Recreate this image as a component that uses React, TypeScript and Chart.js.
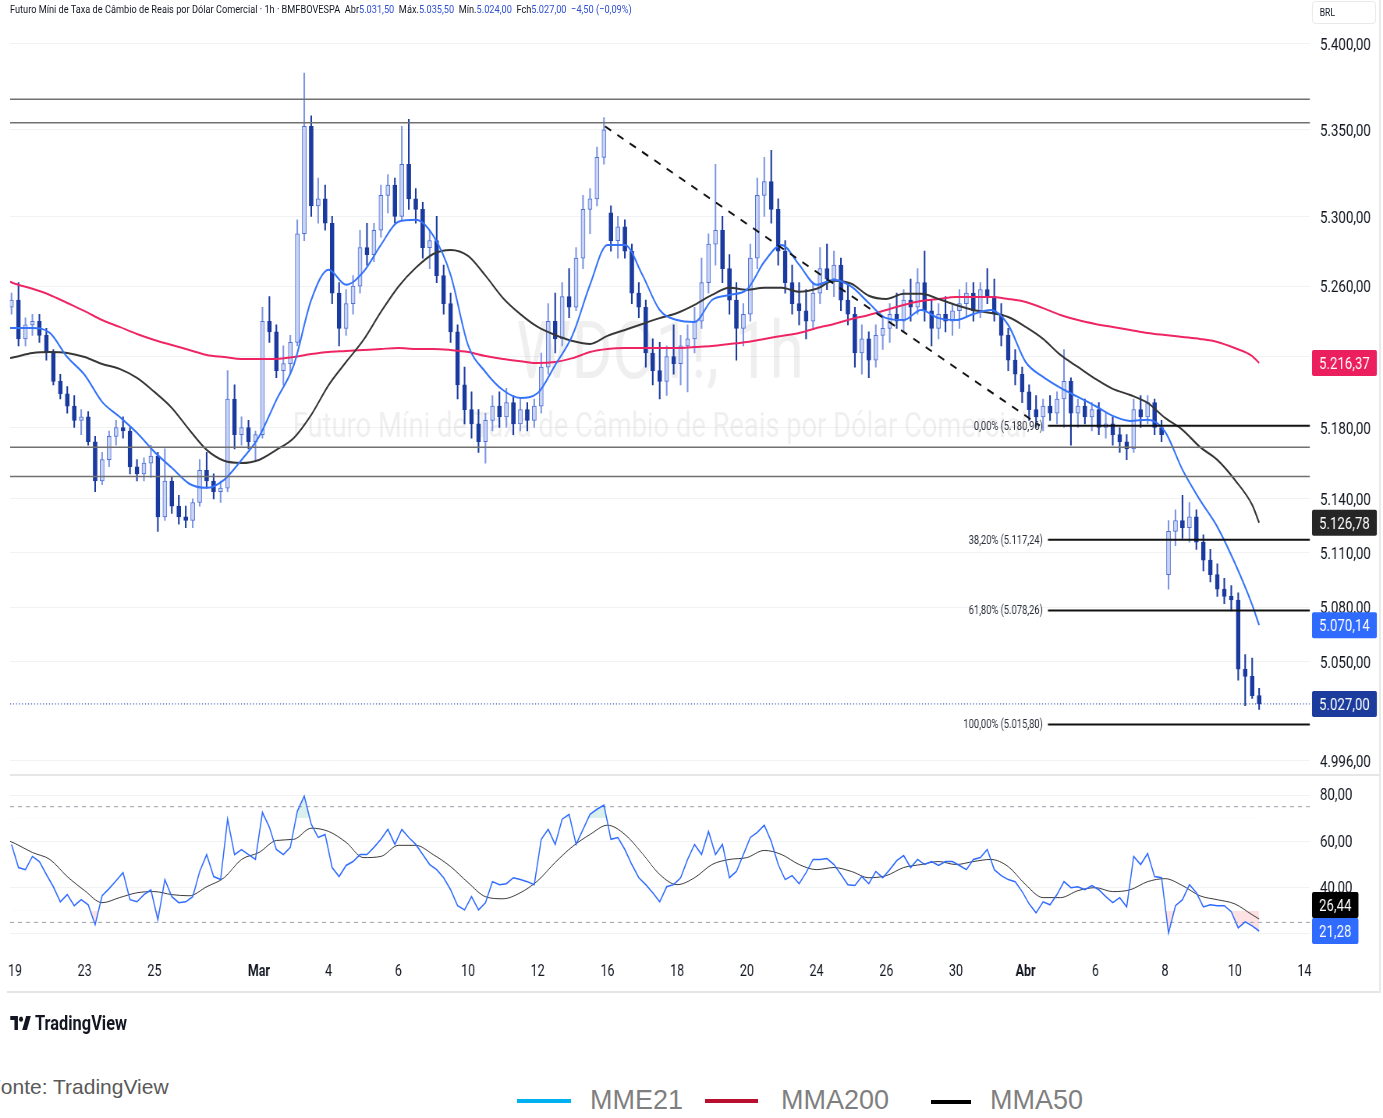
import React, { useEffect, useRef } from "react";
import { Chart, registerables } from "chart.js";

Chart.register(...registerables);

// The TradingView capture is horizontally squeezed; we render wider and squeeze it the same way.
const PAGE_W = 1383;
const SQUEEZE = 0.78;
const CANVAS_W = Math.round(PAGE_W / SQUEEZE);
const SQ = PAGE_W / CANVAS_W;
const CANVAS_H = 993;
const FONT = 'Roboto, "Open Sans", sans-serif';
const SLOTS_PER_DAY = 5;

// ---------- x axis (trading days, 0 = 19 Feb) ----------
const tickDays = [0, 2, 4, 7, 9, 11, 13, 15, 17, 19, 21, 23, 25, 27, 29, 31, 33, 35, 37];
const tickLabels = ["19", "23", "25", "Mar", "4", "6", "10", "12", "16", "18", "20", "24", "26", "30", "Abr", "6", "8", "10", "14"];
const monthLabels = ["Mar", "Abr"];
const viewStartDay = -0.143;
const viewEndDay = 37.16;

// ---------- candles (1st = last bar of 18 Feb, then 5 bars per trading day) ----------
const candleOpen = [5248,
  5252, 5230, 5238, 5240, 5232, 5222, 5206, 5199, 5192, 5184, 5186, 5172, 5150, 5162, 5175,
  5180, 5178, 5158, 5154, 5160, 5164, 5130, 5150, 5136, 5130, 5128, 5138, 5156, 5150, 5144,
  5146, 5196, 5176, 5180, 5172, 5176, 5240, 5234, 5212, 5216, 5228, 5290, 5352, 5306, 5310,
  5296, 5256, 5236, 5250, 5260, 5282, 5278, 5292, 5312, 5318, 5300, 5330, 5310, 5304, 5282,
  5286, 5266, 5250, 5234, 5204, 5190, 5182, 5172, 5184, 5192, 5186, 5194, 5182, 5190, 5184,
  5192, 5214, 5240, 5230, 5254, 5248, 5276, 5304, 5310, 5334, 5302, 5286, 5294, 5280, 5256,
  5248, 5222, 5212, 5206, 5220, 5216, 5226, 5230, 5240, 5262, 5284, 5292, 5270, 5252, 5236,
  5244, 5276, 5312, 5320, 5304, 5280, 5262, 5250, 5246, 5240, 5256, 5270, 5264, 5272, 5252,
  5244, 5222, 5230, 5218, 5232, 5236, 5244, 5240, 5252, 5248, 5262, 5246, 5236, 5244, 5240,
  5246, 5250, 5256, 5246, 5258, 5254, 5244, 5232, 5218, 5210, 5200, 5190, 5186, 5192, 5188,
  5196, 5206, 5188, 5192, 5186, 5190, 5180, 5182, 5176, 5172, 5168, 5190, 5186, 5194, 5180,
  5098, 5122, 5128, 5124, 5130, 5116, 5106, 5098, 5090, 5086, 5084, 5046, 5042, 5031.5];
const candleHigh = [5256,
  5262, 5242, 5244, 5244, 5236, 5224, 5210, 5203, 5198, 5190, 5189, 5175, 5166, 5178, 5184,
  5186, 5180, 5162, 5163, 5170, 5166, 5168, 5152, 5142, 5136, 5140, 5162, 5166, 5154, 5150,
  5212, 5204, 5186, 5184, 5178, 5248, 5254, 5238, 5226, 5232, 5298, 5383, 5358, 5322, 5318,
  5300, 5262, 5258, 5266, 5292, 5296, 5296, 5318, 5324, 5322, 5352, 5356, 5316, 5308, 5292,
  5300, 5272, 5256, 5238, 5214, 5200, 5190, 5188, 5198, 5200, 5202, 5198, 5196, 5194, 5196,
  5222, 5250, 5256, 5262, 5270, 5282, 5312, 5316, 5340, 5357, 5306, 5300, 5298, 5284, 5262,
  5252, 5230, 5228, 5226, 5238, 5232, 5238, 5248, 5276, 5290, 5330, 5300, 5278, 5262, 5250,
  5284, 5322, 5334, 5338, 5310, 5286, 5272, 5262, 5258, 5262, 5282, 5284, 5280, 5276, 5262,
  5248, 5238, 5234, 5238, 5242, 5250, 5256, 5258, 5264, 5270, 5280, 5252, 5250, 5254, 5250,
  5258, 5262, 5262, 5262, 5270, 5264, 5250, 5236, 5224, 5214, 5204, 5198, 5196, 5198, 5200,
  5224, 5208, 5196, 5196, 5194, 5194, 5188, 5186, 5180, 5176, 5196, 5198, 5198, 5196, 5184,
  5128, 5134, 5142, 5138, 5134, 5120, 5112, 5104, 5096, 5092, 5088, 5054, 5052, 5035.5];
const candleLow = [5244,
  5226, 5226, 5232, 5228, 5218, 5204, 5196, 5188, 5180, 5176, 5170, 5144, 5148, 5158, 5170,
  5174, 5154, 5150, 5150, 5152, 5122, 5128, 5132, 5126, 5124, 5124, 5136, 5146, 5140, 5138,
  5144, 5168, 5170, 5168, 5162, 5174, 5228, 5208, 5204, 5210, 5226, 5286, 5300, 5296, 5292,
  5250, 5226, 5232, 5244, 5256, 5272, 5274, 5288, 5302, 5296, 5298, 5304, 5296, 5276, 5270,
  5262, 5244, 5228, 5196, 5182, 5174, 5166, 5160, 5178, 5180, 5180, 5176, 5178, 5178, 5180,
  5188, 5210, 5222, 5226, 5242, 5246, 5270, 5290, 5306, 5330, 5280, 5276, 5276, 5250, 5242,
  5214, 5204, 5196, 5198, 5210, 5204, 5200, 5222, 5236, 5256, 5272, 5262, 5244, 5218, 5226,
  5240, 5270, 5300, 5296, 5272, 5256, 5244, 5238, 5230, 5236, 5250, 5258, 5254, 5246, 5238,
  5214, 5210, 5208, 5214, 5224, 5228, 5236, 5234, 5240, 5244, 5240, 5226, 5230, 5234, 5232,
  5236, 5242, 5240, 5242, 5250, 5240, 5226, 5212, 5204, 5194, 5184, 5180, 5178, 5184, 5182,
  5180, 5170, 5180, 5182, 5178, 5176, 5174, 5170, 5166, 5162, 5166, 5180, 5182, 5176, 5172,
  5090, 5114, 5118, 5116, 5112, 5100, 5094, 5086, 5082, 5078, 5040, 5026, 5030, 5024];
const candleClose = [5252,
  5230, 5238, 5240, 5232, 5222, 5206, 5199, 5192, 5184, 5186, 5172, 5150, 5162, 5175, 5180,
  5178, 5158, 5154, 5160, 5164, 5130, 5150, 5136, 5130, 5128, 5138, 5156, 5150, 5144, 5146,
  5196, 5176, 5180, 5172, 5176, 5240, 5234, 5212, 5216, 5228, 5290, 5352, 5306, 5310, 5296,
  5256, 5236, 5250, 5260, 5282, 5278, 5292, 5312, 5318, 5300, 5330, 5310, 5304, 5282, 5286,
  5266, 5250, 5234, 5204, 5190, 5182, 5172, 5184, 5192, 5186, 5194, 5182, 5190, 5184, 5192,
  5214, 5240, 5230, 5254, 5248, 5276, 5304, 5310, 5334, 5350, 5286, 5294, 5280, 5256, 5248,
  5222, 5212, 5206, 5220, 5216, 5226, 5230, 5240, 5262, 5284, 5292, 5270, 5252, 5236, 5244,
  5276, 5312, 5320, 5304, 5280, 5262, 5250, 5246, 5240, 5256, 5270, 5264, 5272, 5252, 5244,
  5222, 5230, 5218, 5232, 5236, 5244, 5240, 5252, 5248, 5262, 5246, 5236, 5244, 5240, 5246,
  5250, 5256, 5246, 5258, 5254, 5244, 5232, 5218, 5210, 5200, 5190, 5186, 5192, 5188, 5196,
  5206, 5188, 5192, 5186, 5190, 5180, 5182, 5176, 5172, 5168, 5190, 5186, 5194, 5180, 5176,
  5122, 5128, 5124, 5130, 5116, 5106, 5098, 5090, 5086, 5084, 5046, 5042, 5031.5, 5027];

// ---------- RSI(14) per candle ----------
const rsiValues = [58.7,
  48.7, 47.8, 53.5, 51.3, 45.7, 40.4, 33.9, 37.0, 32.2, 34.8, 32.6, 24.0, 36.5, 39.6, 43.0,
  46.5, 34.8, 33.9, 37.0, 39.1, 26.1, 43.5, 36.1, 33.5, 33.9, 36.1, 47.0, 54.3, 44.8, 43.5,
  69.6, 54.3, 56.5, 54.3, 52.2, 72.6, 66.1, 56.5, 54.3, 57.4, 73.0, 79.6, 67.4, 61.7, 63.0,
  48.7, 44.8, 49.6, 51.3, 54.3, 54.3, 57.4, 60.9, 65.2, 58.7, 65.2, 61.7, 58.7, 54.3, 50.0,
  47.8, 44.3, 39.1, 32.2, 30.4, 36.1, 30.4, 33.5, 42.6, 41.3, 41.7, 44.3, 43.5, 42.6, 41.3,
  60.9, 65.2, 58.7, 69.6, 71.7, 58.7, 65.2, 71.7, 73.9, 75.7, 60.9, 61.7, 56.5, 50.0, 44.3,
  41.3, 37.8, 33.9, 40.4, 41.3, 44.3, 52.2, 58.7, 54.3, 64.3, 54.3, 58.7, 44.3, 47.0, 54.3,
  61.7, 63.9, 67.0, 60.0, 50.0, 43.5, 45.2, 41.7, 46.5, 52.2, 52.2, 52.6, 50.0, 45.7, 41.3,
  40.9, 44.8, 41.7, 47.0, 44.3, 47.8, 51.7, 53.9, 48.7, 52.2, 50.0, 51.3, 49.6, 51.3, 51.3,
  49.6, 47.8, 52.2, 53.0, 56.5, 47.8, 45.2, 43.5, 42.6, 38.3, 33.0, 29.1, 33.9, 32.6, 37.0,
  42.6, 40.0, 40.4, 39.1, 40.9, 39.1, 36.1, 33.5, 35.7, 31.7, 53.5, 50.0, 54.8, 44.8, 44.3,
  20.4, 32.2, 34.8, 41.3, 37.8, 31.7, 32.6, 32.2, 32.2, 29.6, 22.6, 25.2, 23.5, 21.28];

// ---------- moving averages, read every half trading day ----------
const maDays = [-0.14, 0, 0.5, 1, 1.5, 2, 2.5, 3, 3.5, 4, 4.5, 5, 5.5, 6, 6.5, 7, 7.5, 8, 8.5, 9, 9.5,
  10, 10.5, 11, 11.5, 12, 12.5, 13, 13.5, 14, 14.5, 15, 15.5, 16, 16.5, 17, 17.5, 18, 18.5, 19, 19.5,
  20, 20.5, 21, 21.5, 22, 22.5, 23, 23.5, 24, 24.5, 25, 25.5, 26, 26.5, 27, 27.5, 28, 28.5, 29, 29.5,
  30, 30.5, 31, 31.5, 32, 32.5, 33, 33.5, 34, 34.5, 35, 35.5, 35.7];
const ema21 = [5236.2, 5236.2, 5236.2, 5233.4, 5219.7, 5209.6, 5194.4, 5186.0, 5177.0, 5166.3, 5157.4,
  5148.5, 5146.2, 5150.7, 5161.8, 5174.7, 5195.5, 5215.2, 5252.1, 5269.4, 5260.8, 5268.2, 5283.6,
  5296.9, 5298.0, 5288.9, 5266.5, 5226.5, 5211.3, 5201.1, 5196.6, 5199.4, 5215.2, 5232.2, 5260.8,
  5283.6, 5283.6, 5266.5, 5246.4, 5240.7, 5239.6, 5252.1, 5255.0, 5258.0, 5273.9, 5283.6, 5272.2,
  5260.8, 5263.7, 5259.7, 5250.4, 5241.8, 5240.7, 5246.4, 5241.8, 5240.7, 5244.1, 5246.4, 5237.9,
  5216.9, 5208.5, 5202.3, 5197.2, 5192.1, 5186.5, 5183.7, 5184.3, 5177.6, 5156.3, 5139.5, 5124.5,
  5104.5, 5081.3, 5070.14];
const sma50 = [5219.1, 5219.7, 5222.0, 5222.6, 5222.0, 5219.7, 5215.8, 5213.0, 5207.9, 5200.0, 5191.0,
  5178.7, 5167.4, 5161.3, 5160.1, 5161.8, 5167.4, 5174.1, 5187.1, 5203.9, 5216.9, 5229.4, 5245.3,
  5259.7, 5270.5, 5278.4, 5280.7, 5277.3, 5266.0, 5253.3, 5244.1, 5236.8, 5232.2, 5228.8, 5227.1,
  5231.7, 5235.1, 5238.5, 5241.8, 5244.7, 5249.3, 5255.0, 5259.1, 5258.0, 5259.1, 5259.1, 5256.8,
  5258.5, 5263.1, 5261.4, 5254.5, 5252.7, 5255.6, 5255.6, 5252.7, 5249.3, 5246.4, 5244.7, 5242.4,
  5236.8, 5230.0, 5220.9, 5214.1, 5207.4, 5201.7, 5198.3, 5193.8, 5185.4, 5178.7, 5169.1, 5161.8,
  5150.7, 5136.7, 5126.78];
const sma200 = [5262.5, 5261.4, 5258.5, 5255.0, 5250.4, 5245.8, 5240.7, 5236.8, 5232.8, 5229.4, 5226.5,
  5223.7, 5220.9, 5219.7, 5218.6, 5218.6, 5218.6, 5219.7, 5221.4, 5222.6, 5223.1, 5223.7, 5224.3,
  5224.8, 5224.3, 5224.3, 5223.7, 5222.6, 5220.3, 5218.6, 5217.4, 5216.3, 5216.9, 5219.1, 5222.6,
  5224.3, 5224.8, 5224.8, 5224.8, 5224.8, 5225.4, 5226.0, 5227.1, 5228.3, 5230.0, 5231.7, 5233.4,
  5236.2, 5238.5, 5241.3, 5243.6, 5246.4, 5249.3, 5251.5, 5252.7, 5253.8, 5253.8, 5253.8, 5252.7,
  5251.0, 5247.5, 5243.6, 5240.7, 5238.5, 5236.8, 5235.1, 5233.4, 5232.2, 5231.1, 5230.0, 5228.3,
  5224.8, 5220.3, 5216.37];
const rsiMa = [60.0, 59.1, 55.2, 52.2, 44.8, 38.7, 33.5, 35.7, 37.8, 38.3, 37.0, 36.5, 40.4, 44.3, 52.2,
  55.2, 60.4, 60.9, 65.7, 64.3, 59.6, 53.0, 53.5, 58.3, 58.3, 54.3, 49.1, 42.2, 36.1, 35.2, 37.8, 43.0,
  50.9, 57.8, 63.0, 67.0, 63.0, 54.8, 45.7, 41.3, 44.3, 50.0, 52.2, 53.0, 56.1, 54.3, 50.0, 47.8, 48.7,
  47.0, 44.3, 45.2, 48.7, 50.0, 51.3, 50.0, 51.3, 52.2, 49.1, 41.3, 35.7, 35.7, 38.7, 40.0, 38.3, 39.1,
  42.6, 43.9, 40.9, 36.5, 34.8, 33.0, 28.3, 26.44];

// ---------- drawings ----------
const hLevels = [5367.7, 5354.1, 5168.9, 5152.5];
const fibPercents = ["0,00%", "38,20%", "61,80%", "100,00%"];
const fibPrices = [5180.96, 5117.24, 5078.26, 5015.8];
const fibStartDay = 29.64;
const trendDays = [16.93, 29.41];
const trendPrices = [5352, 5181];
const priceTicks = [5400, 5350, 5300, 5260, 5220, 5180, 5140, 5110, 5080, 5050, 4996];
const rsiTicks = [80, 60, 40, 20];
const rsiBands = [75, 25];
const priceRange = [4988.4, 5425.8];
const rsiRange = [10.9, 88.7];

const fmt = (v: number, dec = 2) => {
  const s = Math.abs(v).toFixed(dec);
  const [i, f] = s.split(".");
  const ii = i.replace(/\B(?=(\d{3})+(?!\d))/g, ".");
  return (v < 0 ? "−" : "") + ii + (f ? "," + f : "");
};

const UP_FILL = "#c9d4f5";
const UP_LINE = "#4f70d6";
const DOWN = "#1a3a9f";

export default function App() {
  const ref = useRef<HTMLCanvasElement>(null);

  useEffect(() => {
    const canvas = ref.current!;
    const px = (v: number) => v / SQ; // page px -> canvas px (horizontal)
    const slot = (d: number) => d * SLOTS_PER_DAY;
    const cSlot = (i: number) => i - 0.5;
    const xMin = slot(viewStartDay);
    const xMax = slot(viewEndDay);
    const up = candleClose.map((c, i) => c >= candleOpen[i]);
    const last = candleClose.length - 1;

    const flat = (v: number, a: number, b: number) => [{ x: a, y: v }, { x: b, y: v }];
    const maData = (arr: number[]) => arr.map((v, i) => ({ x: slot(maDays[i]), y: v }));
    const zeroPad = (s: any) => { s.paddingTop = 0; s.paddingBottom = 0; s.paddingLeft = 0; s.paddingRight = 0; };

    const datasets: any[] = [
      {
        type: "bar", label: "wicks", yAxisID: "yPrice", grouped: false, order: 20,
        data: candleClose.map((_, i) => ({ x: cSlot(i), y: [candleLow[i], candleHigh[i]] })),
        backgroundColor: up.map((u) => (u ? "#7d95e3" : DOWN)),
        barThickness: px(1.1), borderWidth: 0, minBarLength: 1,
      },
      {
        type: "bar", label: "bodies", yAxisID: "yPrice", grouped: false, order: 19,
        data: candleClose.map((c, i) => ({ x: cSlot(i), y: [candleOpen[i], c] })),
        backgroundColor: up.map((u) => (u ? UP_FILL : DOWN)),
        borderColor: up.map((u) => (u ? UP_LINE : DOWN)),
        borderWidth: 1, borderSkipped: false, barThickness: px(4), minBarLength: 1,
      },
      { type: "line", label: "MMA200", yAxisID: "yPrice", order: 8, data: maData(sma200),
        borderColor: "#ef2462", borderWidth: 2, pointRadius: 0, cubicInterpolationMode: "monotone" },
      { type: "line", label: "MMA50", yAxisID: "yPrice", order: 7, data: maData(sma50),
        borderColor: "#363636", borderWidth: 2, pointRadius: 0, cubicInterpolationMode: "monotone" },
      { type: "line", label: "MME21", yAxisID: "yPrice", order: 6, data: maData(ema21),
        borderColor: "#3574f9", borderWidth: 2, pointRadius: 0, cubicInterpolationMode: "monotone" },
      ...hLevels.map((v) => ({ type: "line", yAxisID: "yPrice", order: 5, data: flat(v, xMin, xMax),
        borderColor: "#707070", borderWidth: 1.5, pointRadius: 0 })),
      ...fibPrices.map((v) => ({ type: "line", yAxisID: "yPrice", order: 5, data: flat(v, slot(fibStartDay), xMax),
        borderColor: "#111111", borderWidth: 2, pointRadius: 0 })),
      { type: "line", yAxisID: "yPrice", order: 4,
        data: trendDays.map((d, i) => ({ x: slot(d), y: trendPrices[i] })),
        borderColor: "#111111", borderWidth: 2, borderDash: [px(7), px(7)], pointRadius: 0 },
      { type: "line", yAxisID: "yPrice", order: 4, data: flat(candleClose[last], xMin, xMax),
        borderColor: "#1b3d9c", borderWidth: 1, borderDash: [px(1), px(2)], pointRadius: 0 },
      // RSI pane
      ...rsiBands.map((v) => ({ type: "line", yAxisID: "yRsi", order: 9, data: flat(v, xMin, xMax),
        borderColor: "#9a9da6", borderWidth: 1, borderDash: [px(4), px(4)], pointRadius: 0 })),
      { type: "line", yAxisID: "yRsi", order: 10,
        data: rsiValues.map((v, i) => ({ x: cSlot(i), y: v })),
        borderWidth: 0, borderColor: "rgba(0,0,0,0)", pointRadius: 0,
        fill: { target: { value: 70 }, above: "rgba(8,153,129,0.15)", below: "rgba(0,0,0,0)" } },
      { type: "line", yAxisID: "yRsi", order: 10,
        data: rsiValues.map((v, i) => ({ x: cSlot(i), y: v })),
        borderWidth: 0, borderColor: "rgba(0,0,0,0)", pointRadius: 0,
        fill: { target: { value: 30 }, above: "rgba(0,0,0,0)", below: "rgba(242,54,69,0.15)" } },
      { type: "line", label: "RSI MA", yAxisID: "yRsi", order: 3, data: maData(rsiMa),
        borderColor: "#3a3a3a", borderWidth: 1, pointRadius: 0, cubicInterpolationMode: "monotone" },
      { type: "line", label: "RSI", yAxisID: "yRsi", order: 2,
        data: rsiValues.map((v, i) => ({ x: cSlot(i), y: v })),
        borderColor: "#2f6bff", borderWidth: 1.5, pointRadius: 0 },
    ];

    const decor = {
      id: "tvDecor",
      beforeDatasetsDraw(chart: any) {
        const { ctx, chartArea } = chart;
        const yp = chart.scales.yPrice;
        const cx = (chartArea.left + chartArea.right) / 2;
        const cy = (yp.top + yp.bottom) / 2;
        ctx.save();
        ctx.fillStyle = "rgba(120,123,134,0.12)";
        ctx.textAlign = "center";
        ctx.textBaseline = "middle";
        ctx.font = `80px ${FONT}`;
        ctx.fillText("WDO1!, 1h", cx, cy - 30);
        ctx.font = `35px ${FONT}`;
        ctx.fillText("Futuro Míni de Taxa de Câmbio de Reais por Dólar Comercial", cx, cy + 41);
        ctx.restore();
      },
      afterDraw(chart: any) {
        const { ctx, chartArea } = chart;
        const yp = chart.scales.yPrice;
        const yr = chart.scales.yRsi;
        const xs = chart.scales.x;
        ctx.save();
        // fib labels
        ctx.font = `12px ${FONT}`;
        ctx.fillStyle = "#2a2e39";
        ctx.textAlign = "right";
        ctx.textBaseline = "middle";
        const fx = xs.getPixelForValue(slot(fibStartDay)) - px(5);
        fibPrices.forEach((v, i) => {
          ctx.fillText(`${fibPercents[i]} (${fmt(v)})`, fx, yp.getPixelForValue(v) + 1);
        });
        // pane separator / frame
        ctx.strokeStyle = "#e6e6e6";
        ctx.lineWidth = 2;
        const rightEdge = chart.width - px(3);
        ctx.beginPath();
        ctx.moveTo(chartArea.left, yp.bottom);
        ctx.lineTo(rightEdge, yp.bottom);
        ctx.stroke();
        ctx.beginPath();
        ctx.moveTo(chartArea.left - px(3), chart.height - 1);
        ctx.lineTo(rightEdge, chart.height - 1);
        ctx.stroke();
        ctx.beginPath();
        ctx.moveTo(rightEdge, 0);
        ctx.lineTo(rightEdge, chart.height);
        ctx.stroke();
        // axis value boxes
        const boxes = [
          { s: yp, v: sma200[sma200.length - 1], bg: "#ec1f5e" },
          { s: yp, v: sma50[sma50.length - 1], bg: "#262626" },
          { s: yp, v: ema21[ema21.length - 1], bg: "#2f6bff" },
          { s: yp, v: candleClose[last], bg: "#1b3c9c" },
          { s: yr, v: rsiMa[rsiMa.length - 1], bg: "#000000" },
          { s: yr, v: rsiValues[rsiValues.length - 1], bg: "#2f6bff" },
        ].map((b) => ({ ...b, y: b.s.getPixelForValue(b.v) }));
        const BH = 26;
        for (let i = 0; i < boxes.length; i++) {
          for (let j = 0; j < boxes.length; j++) {
            if (i !== j && boxes[i].s === boxes[j].s && boxes[i].y < boxes[j].y && boxes[j].y - boxes[i].y < BH) {
              boxes[i].y = boxes[j].y - BH;
            }
          }
        }
        ctx.font = `17px ${FONT}`;
        ctx.textAlign = "left";
        boxes.forEach((b) => {
          const t = fmt(b.v);
          const w = ctx.measureText(t).width + px(14);
          const x0 = chartArea.right + px(2);
          ctx.fillStyle = b.bg;
          ctx.beginPath();
          ctx.roundRect(x0, b.y - BH / 2, w, BH, 2);
          ctx.fill();
          ctx.fillStyle = "#ffffff";
          ctx.fillText(t, chartArea.right + px(9), b.y + 2);
        });
        ctx.restore();
      },
    };

    const chart = new Chart(canvas, {
      type: "bar",
      data: { datasets },
      options: {
        animation: false,
        responsive: false,
        maintainAspectRatio: false,
        devicePixelRatio: 1,
        layout: { padding: { left: px(10), right: 0, top: 0, bottom: 0 } },
        plugins: { legend: { display: false }, tooltip: { enabled: false } },
        scales: {
          x: {
            type: "linear", min: xMin, max: xMax, offset: false,
            grid: { display: false, offset: false }, border: { display: false },
            afterBuildTicks: (s: any) => { s.ticks = tickDays.map((d) => ({ value: slot(d) })); },
            afterFit: (s: any) => { s.height = CANVAS_H - 955; zeroPad(s); },
            ticks: {
              autoSkip: false, maxRotation: 0, padding: -1, color: "#131722",
              callback: (_v: any, i: number) => tickLabels[i],
              font: (c: any) => ({ family: FONT, size: 16, weight: monthLabels.includes(tickLabels[c.index]) ? "bold" : "normal" }),
            },
          },
          yPrice: {
            type: "logarithmic", position: "right", stack: "pane", stackWeight: 775,
            min: priceRange[0], max: priceRange[1],
            grid: { color: "#f1f2f4", lineWidth: 1, drawTicks: false }, border: { display: false },
            afterBuildTicks: (s: any) => { s.ticks = priceTicks.map((v) => ({ value: v })); },
            afterFit: (s: any) => { s.width = px(73); zeroPad(s); },
            ticks: { autoSkip: false, padding: px(10), labelOffset: 2, color: "#131722", font: { family: FONT, size: 17 },
              callback: (v: any) => fmt(Number(v)) },
          },
          yRsi: {
            type: "linear", position: "right", stack: "pane", stackWeight: 180,
            min: rsiRange[0], max: rsiRange[1],
            grid: { color: "#f1f2f4", lineWidth: 1, drawTicks: false }, border: { display: false },
            afterBuildTicks: (s: any) => { s.ticks = rsiTicks.map((v) => ({ value: v })); },
            afterFit: (s: any) => { s.width = px(73); zeroPad(s); },
            ticks: { autoSkip: false, padding: px(10), labelOffset: 1, color: "#131722", font: { family: FONT, size: 17 },
              callback: (v: any) => (Number(v) === 20 ? "" : fmt(Number(v))) },
          },
        },
      } as any,
      plugins: [decor],
    });
    return () => chart.destroy();
  }, []);

  const blue = "#2f4fd0";
  const X = (v: number) => v / SQ;
  return (
    <div style={{ position: "absolute", left: 0, top: 0, width: PAGE_W, height: 1118, background: "#ffffff", overflow: "hidden" }}>
      <div style={{ position: "absolute", left: 0, top: 0, width: CANVAS_W, height: 1060, transform: `scaleX(${SQ})`, transformOrigin: "0 0" }}>
        <canvas ref={ref} width={CANVAS_W} height={CANVAS_H} style={{ position: "absolute", left: 0, top: 0, width: CANVAS_W, height: CANVAS_H }} />
        <div style={{ position: "absolute", left: X(10), top: 2, font: `11.8px ${FONT}`, color: "#131722", whiteSpace: "nowrap" }}>
          Futuro Míni de Taxa de Câmbio de Reais por Dólar Comercial · 1h · BMFBOVESPA&nbsp;&nbsp;Abr<span style={{ color: blue }}>5.031,50</span>&nbsp;&nbsp;Máx.<span style={{ color: blue }}>5.035,50</span>&nbsp;&nbsp;Mín.<span style={{ color: blue }}>5.024,00</span>&nbsp;&nbsp;Fch<span style={{ color: blue }}>5.027,00</span>&nbsp;&nbsp;<span style={{ color: blue }}>−4,50 (−0,09%)</span>
        </div>
        <div style={{ position: "absolute", left: X(1312), top: 1, width: X(64), height: 23, border: "1px solid #e6e6e6", borderRadius: 4, boxSizing: "border-box", font: `11px ${FONT}`, color: "#131722", paddingLeft: X(7), lineHeight: "22px" }}>BRL</div>
        <div style={{ position: "absolute", left: X(10), top: 1011, display: "flex", alignItems: "center", gap: 5 }}>
          <svg width="27" height="16" viewBox="0 0 27 16">
            <path d="M0 1h10v14H5.5V5H0z" fill="#131722" />
            <circle cx="14" cy="4.2" r="2.6" fill="#131722" />
            <path d="M15.5 15 L20.5 1 H26.5 L21.5 15 Z" fill="#131722" />
          </svg>
          <span style={{ font: `bold 21px ${FONT}`, color: "#131722" }}>TradingView</span>
        </div>
      </div>
      <div style={{ position: "absolute", left: -12, top: 1075, font: "21px 'Liberation Sans', Arial, sans-serif", color: "#595959", whiteSpace: "nowrap" }}>Fonte: TradingView</div>
      <div style={{ position: "absolute", left: 517, top: 1099, width: 54, height: 4, background: "#00b0f0" }} />
      <div style={{ position: "absolute", left: 590, top: 1085, font: "27px 'Liberation Sans', Arial, sans-serif", color: "#7f7f7f" }}>MME21</div>
      <div style={{ position: "absolute", left: 705, top: 1099, width: 53, height: 4, background: "#b8102e" }} />
      <div style={{ position: "absolute", left: 781, top: 1085, font: "27px 'Liberation Sans', Arial, sans-serif", color: "#7f7f7f" }}>MMA200</div>
      <div style={{ position: "absolute", left: 931, top: 1100, width: 40, height: 4, background: "#000000" }} />
      <div style={{ position: "absolute", left: 990, top: 1085, font: "27px 'Liberation Sans', Arial, sans-serif", color: "#7f7f7f" }}>MMA50</div>
    </div>
  );
}
